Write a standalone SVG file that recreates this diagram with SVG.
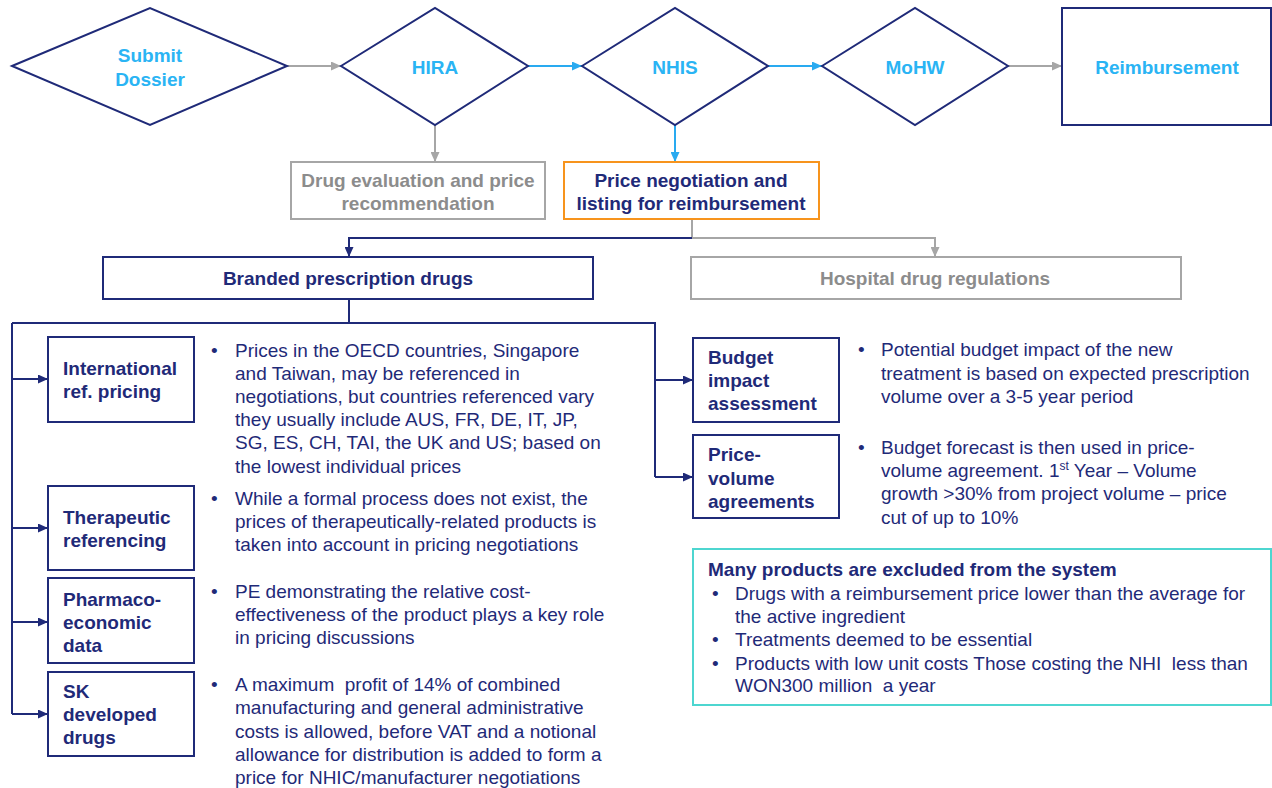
<svg xmlns="http://www.w3.org/2000/svg" width="1272" height="788" viewBox="0 0 1272 788">
  <defs>
    <style>
      text { font-family: "Liberation Sans", Arial, sans-serif; font-size: 19px; }
      .shape { fill: #ffffff; stroke: #1f2a78; stroke-width: 2; }
      .shape-gray { fill: #ffffff; stroke: #a6a6a6; stroke-width: 2; }
      .shape-orange { fill: #ffffff; stroke: #f7941d; stroke-width: 2; }
      .shape-teal { fill: #ffffff; stroke: #4dd6d0; stroke-width: 2; }
      .t-cyan { fill: #2ab4f4; font-weight: bold; text-anchor: middle; }
      .t-head { fill: #1f2a78; font-weight: bold; }
      .t-head-c { fill: #1f2a78; font-weight: bold; text-anchor: middle; }
      .t-gray { fill: #8c8c8c; font-weight: bold; text-anchor: middle; }
      .t-body { fill: #1f2a78; }
      .c-navy { fill: none; stroke: #1f2a78; stroke-width: 2; }
      .c-gray { fill: none; stroke: #a6a6a6; stroke-width: 2; }
      .c-blue { fill: none; stroke: #29aaf0; stroke-width: 2; }
    </style>
    <marker id="ah-navy" viewBox="0 0 10 9" refX="10" refY="4.5" markerWidth="10" markerHeight="9" markerUnits="userSpaceOnUse" orient="auto">
      <path d="M0,0 L10,4.5 L0,9 z" fill="#1f2a78"/>
    </marker>
    <marker id="ah-gray" viewBox="0 0 10 9" refX="10" refY="4.5" markerWidth="10" markerHeight="9" markerUnits="userSpaceOnUse" orient="auto">
      <path d="M0,0 L10,4.5 L0,9 z" fill="#a6a6a6"/>
    </marker>
    <marker id="ah-blue" viewBox="0 0 10 9" refX="10" refY="4.5" markerWidth="10" markerHeight="9" markerUnits="userSpaceOnUse" orient="auto">
      <path d="M0,0 L10,4.5 L0,9 z" fill="#29aaf0"/>
    </marker>
  </defs>

  <rect width="1272" height="788" fill="#ffffff"/>

  <!-- connectors -->
  <g id="connectors">
    <path class="c-gray" d="M287,66 H341" marker-end="url(#ah-gray)"/>
    <path class="c-blue" d="M528,66 H582" marker-end="url(#ah-blue)"/>
    <path class="c-blue" d="M768,66 H822" marker-end="url(#ah-blue)"/>
    <path class="c-gray" d="M1008,66 H1062" marker-end="url(#ah-gray)"/>
    <path class="c-gray" d="M435,125 V162" marker-end="url(#ah-gray)"/>
    <path class="c-blue" d="M675,125 V162" marker-end="url(#ah-blue)"/>
    <path class="c-gray" d="M692,219 V238 H935 V257" marker-end="url(#ah-gray)"/>
    <path class="c-navy" d="M692,238 H349 V257" marker-end="url(#ah-navy)"/>
    <path class="c-navy" d="M349,299 V323 M12,323 H655 V477 M12,323 V714"/>
    <path class="c-navy" d="M12,379 H48" marker-end="url(#ah-navy)"/>
    <path class="c-navy" d="M12,528 H48" marker-end="url(#ah-navy)"/>
    <path class="c-navy" d="M12,622 H48" marker-end="url(#ah-navy)"/>
    <path class="c-navy" d="M12,714 H48" marker-end="url(#ah-navy)"/>
    <path class="c-navy" d="M655,380 H693" marker-end="url(#ah-navy)"/>
    <path class="c-navy" d="M655,477 H693" marker-end="url(#ah-navy)"/>
  </g>

  <!-- process steps -->
  <g id="submit-dossier">
    <polygon class="shape" points="12,66 150,8 287,66 150,125"/>
    <text class="t-cyan" x="150" y="62">Submit</text>
    <text class="t-cyan" x="150" y="86">Dossier</text>
  </g>
  <g id="hira">
    <polygon class="shape" points="341,66 435,8 528,66 435,125"/>
    <text class="t-cyan" x="435" y="74">HIRA</text>
  </g>
  <g id="nhis">
    <polygon class="shape" points="582,66 675,8 768,66 675,125"/>
    <text class="t-cyan" x="675" y="74">NHIS</text>
  </g>
  <g id="mohw">
    <polygon class="shape" points="822,66 915,8 1008,66 915,125"/>
    <text class="t-cyan" x="915" y="74">MoHW</text>
  </g>
  <g id="reimbursement">
    <rect class="shape" x="1062" y="8" width="209" height="117"/>
    <text class="t-cyan" x="1167" y="74" font-size="20">Reimbursement</text>
  </g>

  <g id="drug-evaluation">
    <rect class="shape-gray" x="291" y="162" width="254" height="57"/>
    <text class="t-gray" x="418" y="187">Drug evaluation and price</text>
    <text class="t-gray" x="418" y="210">recommendation</text>
  </g>
  <g id="price-negotiation">
    <rect class="shape-orange" x="564" y="162" width="255" height="57"/>
    <text class="t-head-c" x="691" y="187">Price negotiation and</text>
    <text class="t-head-c" x="691" y="210">listing for reimbursement</text>
  </g>

  <g id="branded-drugs">
    <rect class="shape" x="103" y="257" width="490" height="42"/>
    <text class="t-head-c" x="348" y="285">Branded prescription drugs</text>
  </g>
  <g id="hospital-regulations">
    <rect class="shape-gray" x="691" y="257" width="490" height="42"/>
    <text class="t-gray" x="935" y="285">Hospital drug regulations</text>
  </g>

  <!-- branded drug pricing levers -->
  <g id="international-ref-pricing">
    <rect class="shape" x="48" y="337" width="146" height="85"/>
    <text class="t-head" x="63" y="375">International</text>
    <text class="t-head" x="63" y="398">ref. pricing</text>
    <text class="t-body" x="211" y="357">•</text>
    <text class="t-body">
      <tspan x="235" y="357">Prices in the OECD countries, Singapore</tspan>
      <tspan x="235" y="380">and Taiwan, may be referenced in</tspan>
      <tspan x="235" y="403">negotiations, but countries referenced vary</tspan>
      <tspan x="235" y="426">they usually include AUS, FR, DE, IT, JP,</tspan>
      <tspan x="235" y="449">SG, ES, CH, TAI, the UK and US; based on</tspan>
      <tspan x="235" y="473">the lowest individual prices</tspan>
    </text>
  </g>
  <g id="therapeutic-referencing">
    <rect class="shape" x="48" y="486" width="146" height="84"/>
    <text class="t-head" x="63" y="524">Therapeutic</text>
    <text class="t-head" x="63" y="547">referencing</text>
    <text class="t-body" x="211" y="505">•</text>
    <text class="t-body">
      <tspan x="235" y="505">While a formal process does not exist, the</tspan>
      <tspan x="235" y="528">prices of therapeutically-related products is</tspan>
      <tspan x="235" y="551">taken into account in pricing negotiations</tspan>
    </text>
  </g>
  <g id="pharmacoeconomic-data">
    <rect class="shape" x="48" y="578" width="146" height="85"/>
    <text class="t-head" x="63" y="606">Pharmaco-</text>
    <text class="t-head" x="63" y="629">economic</text>
    <text class="t-head" x="63" y="652">data</text>
    <text class="t-body" x="211" y="598">•</text>
    <text class="t-body">
      <tspan x="235" y="598">PE demonstrating the relative cost-</tspan>
      <tspan x="235" y="621">effectiveness of the product plays a key role</tspan>
      <tspan x="235" y="644">in pricing discussions</tspan>
    </text>
  </g>
  <g id="sk-developed-drugs">
    <rect class="shape" x="48" y="672" width="146" height="84"/>
    <text class="t-head" x="63" y="698">SK</text>
    <text class="t-head" x="63" y="721">developed</text>
    <text class="t-head" x="63" y="744">drugs</text>
    <text class="t-body" x="211" y="691">•</text>
    <text class="t-body">
      <tspan x="235" y="691">A maximum&#160; profit of 14% of combined</tspan>
      <tspan x="235" y="714">manufacturing and general administrative</tspan>
      <tspan x="235" y="738">costs is allowed, before VAT and a notional</tspan>
      <tspan x="235" y="761">allowance for distribution is added to form a</tspan>
      <tspan x="235" y="784">price for NHIC/manufacturer negotiations</tspan>
    </text>
  </g>

  <g id="budget-impact-assessment">
    <rect class="shape" x="693" y="338" width="146" height="84"/>
    <text class="t-head" x="708" y="364">Budget</text>
    <text class="t-head" x="708" y="387">impact</text>
    <text class="t-head" x="708" y="410">assessment</text>
    <text class="t-body" x="858" y="356">•</text>
    <text class="t-body">
      <tspan x="881" y="356">Potential budget impact of the new</tspan>
      <tspan x="881" y="380">treatment is based on expected prescription</tspan>
      <tspan x="881" y="403">volume over a 3-5 year period</tspan>
    </text>
  </g>
  <g id="price-volume-agreements">
    <rect class="shape" x="693" y="435" width="146" height="83"/>
    <text class="t-head" x="708" y="461">Price-</text>
    <text class="t-head" x="708" y="485">volume</text>
    <text class="t-head" x="708" y="508">agreements</text>
    <text class="t-body" x="858" y="454">•</text>
    <text class="t-body">
      <tspan x="881" y="454">Budget forecast is then used in price-</tspan>
      <tspan x="881" y="477">volume agreement. 1<tspan font-size="12" dy="-7">st</tspan><tspan dy="7"> Year – Volume</tspan></tspan>
      <tspan x="881" y="500">growth &gt;30% from project volume – price</tspan>
      <tspan x="881" y="524">cut of up to 10%</tspan>
    </text>
  </g>

  <g id="exclusions">
    <rect class="shape-teal" x="693" y="549" width="578" height="156"/>
    <text class="t-head" x="708" y="576">Many products are excluded from the system</text>
    <text class="t-body" x="712" y="600">•</text>
    <text class="t-body" x="712" y="646">•</text>
    <text class="t-body" x="712" y="670">•</text>
    <text class="t-body">
      <tspan x="735" y="600">Drugs with a reimbursement price lower than the average for</tspan>
      <tspan x="735" y="623">the active ingredient</tspan>
      <tspan x="735" y="646">Treatments deemed to be essential</tspan>
      <tspan x="735" y="670">Products with low unit costs Those costing the NHI&#160; less than</tspan>
      <tspan x="735" y="692">WON300 million&#160; a year</tspan>
    </text>
  </g>
</svg>
